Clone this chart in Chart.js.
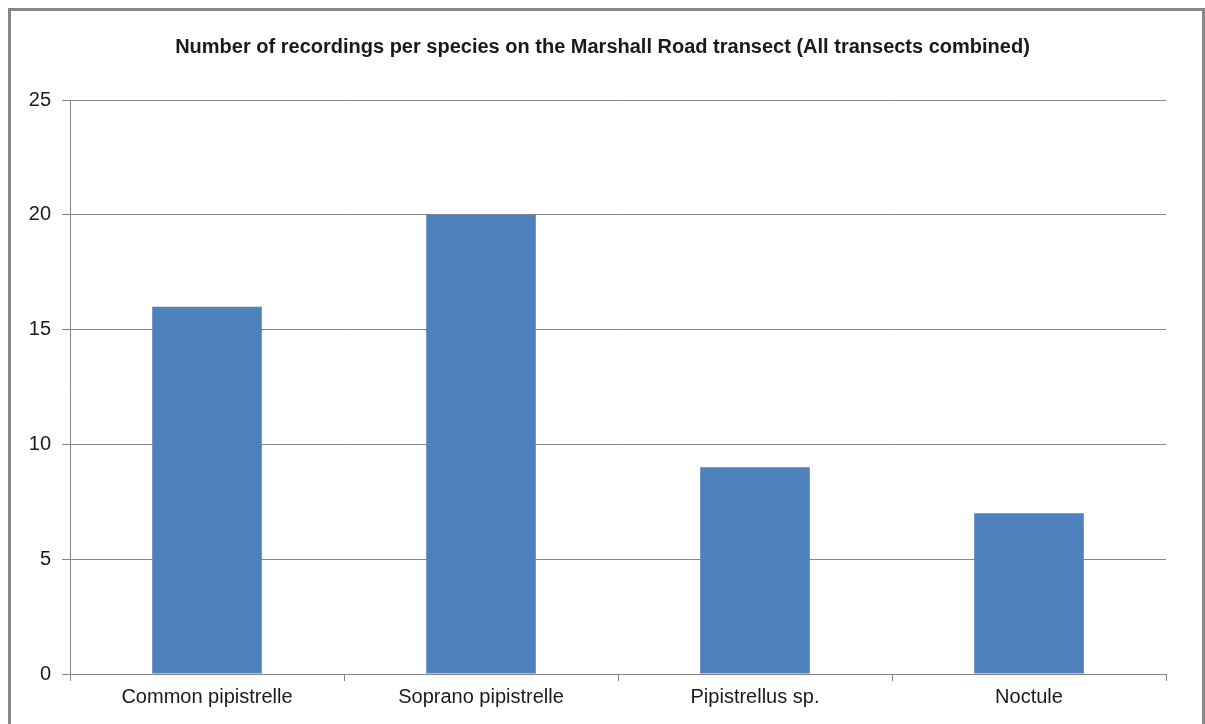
<!DOCTYPE html>
<html>
<head>
    <title>Marshall Road transect recordings</title>
    <script src="https://cdn.jsdelivr.net/npm/chart.js"></script>
    <style>
        body {
            margin: 0;
            background: white;
            font-family: "Liberation Sans", Arial, sans-serif;
        }
        .chart-container {
            position: absolute;
            left: 0;
            top: 0;
            width: 1205px;
            height: 724px;
        }
        .frame {
            position: absolute;
            left: 8px;
            top: 8px;
            width: 1191px;
            height: 730px;
            border: 3px solid #878787;
            border-bottom: none;
            pointer-events: none;
        }
    </style>
</head>
<body>
    <div class="chart-container">
        <canvas id="speciesChart"></canvas>
    </div>
    <div class="frame"></div>

    <script>
        // Data
        const species = ['Common pipistrelle', 'Soprano pipistrelle', 'Pipistrellus sp.', 'Noctule'];
        const recordings = [16, 20, 9, 7];
        const yTicks = [0, 5, 10, 15, 20, 25];

        const gridColor = '#868686';
        const textColor = '#1a1a1a';

        const ctx = document.getElementById('speciesChart').getContext('2d');
        const chart = new Chart(ctx, {
            type: 'bar',
            data: {
                labels: species,
                datasets: [{
                    data: recordings,
                    backgroundColor: '#4f81bd',
                    borderWidth: 0,
                    barPercentage: 0.4,
                    categoryPercentage: 1.0
                }]
            },
            options: {
                responsive: true,
                maintainAspectRatio: false,
                animation: false,
                layout: {
                    padding: 0
                },
                plugins: {
                    legend: { display: false },
                    tooltip: { enabled: false },
                    title: {
                        display: true,
                        text: 'Number of recordings per species on the Marshall Road transect (All transects combined)',
                        color: textColor,
                        font: { family: '"Liberation Sans", Arial, sans-serif', size: 20, weight: 'bold' },
                        padding: { top: 35, bottom: 41 }
                    }
                },
                scales: {
                    x: {
                        grid: {
                            display: true,
                            drawOnChartArea: false,
                            drawTicks: true,
                            tickLength: 7,
                            color: gridColor,
                            offset: true
                        },
                        border: { display: true, color: gridColor, width: 1 },
                        ticks: {
                            color: textColor,
                            padding: 4,
                            maxRotation: 0,
                            font: { family: '"Liberation Sans", Arial, sans-serif', size: 20 }
                        },
                        afterFit: scale => { scale.height = 50; }
                    },
                    y: {
                        min: 0,
                        max: 25,
                        afterBuildTicks: scale => {
                            scale.ticks = yTicks.map(v => ({ value: v }));
                        },
                        grid: {
                            color: gridColor,
                            tickLength: 8,
                            drawTicks: true
                        },
                        border: { display: true, color: gridColor, width: 1 },
                        ticks: {
                            color: textColor,
                            padding: 11,
                            font: { family: '"Liberation Sans", Arial, sans-serif', size: 20 }
                        },
                        afterFit: scale => { scale.width = 70; }
                    },
                    // empty right-hand spacer so the title stays centred on the whole frame
                    spacer: {
                        type: 'linear',
                        position: 'right',
                        grid: { display: false },
                        border: { display: false },
                        ticks: { display: false },
                        afterFit: scale => { scale.width = 39; }
                    }
                }
            }
        });
    </script>
</body>
</html>
